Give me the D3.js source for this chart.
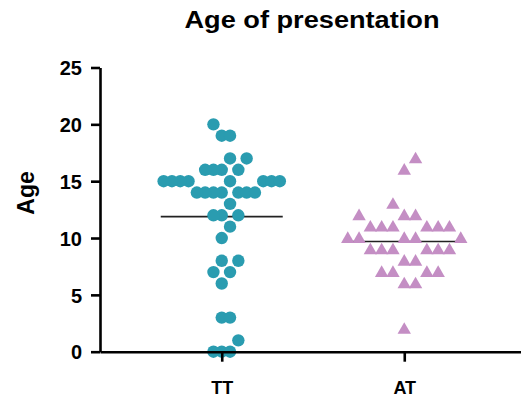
<!DOCTYPE html>
<html>
<head>
<meta charset="utf-8">
<script src="https://cdn.jsdelivr.net/npm/d3@7"></script>
<style>
  body { margin: 0; background: #fff; }
  text { font-family: "Liberation Sans", Arial, sans-serif; font-weight: bold; fill: #000; }
</style>
</head>
<body>
<div id="chart"></div>
<script>
const groups = ["TT", "AT"];
const ttAges = [20, 19, 19, 17, 17, 16, 16, 16, 16, 15, 15, 15, 15, 15, 15, 15, 15,
  14, 14, 14, 14, 14, 14, 14, 13, 12, 12, 12, 11, 10, 8, 8, 7, 7, 6, 3, 3, 1, 0, 0, 0];
const atAges = [17, 16, 13, 12, 12, 12, 11, 11, 11, 11, 11, 11, 10, 10, 10, 10, 10,
  9, 9, 9, 9, 9, 9, 8, 8, 7, 7, 7, 7, 6, 6, 2];
const yTicks = [0, 5, 10, 15, 20, 25];

const width = 521, height = 397;

const svg = d3.select("#chart").append("svg")
  .attr("width", width)
  .attr("height", height);

const y = d3.scaleLinear().domain([0, 25]).range([351.7, 67.5]);
const x = d3.scalePoint().domain(groups).range([100, 526]).padding(0.667);

// column layout: a point can't share a column with points in the same or neighbouring row
function swarm(values) {
  const placed = [];
  values.slice().sort((a, b) => a - b).forEach(v => {
    const taken = new Set(placed.filter(p => Math.abs(p.v - v) <= 1).map(p => p.col));
    let col = 0;
    for (let k = 0; ; k++) {
      if (!taken.has(k)) { col = k; break; }
      if (!taken.has(-k)) { col = -k; break; }
    }
    placed.push({v: v, col: col});
  });
  return placed;
}

const series = [
  {name: "TT", values: ttAges, color: "#2a9cb0", step: 8.3},
  {name: "AT", values: atAges, color: "#c48ec4", step: 11.3}
];

// mean lines (behind the points)
series.forEach(s => {
  const m = d3.mean(s.values);
  svg.append("line")
    .attr("x1", x(s.name) - 61).attr("x2", x(s.name) + 61)
    .attr("y1", y(m)).attr("y2", y(m))
    .attr("stroke", "#222").attr("stroke-width", 1.6);
});

// TT circles
svg.append("g").selectAll("circle")
  .data(swarm(ttAges))
  .enter().append("circle")
    .attr("cx", d => x("TT") + d.col * series[0].step)
    .attr("cy", d => y(d.v))
    .attr("r", 6.2)
    .attr("fill", series[0].color);

// AT triangles
const tri = d3.symbol().type(d3.symbolTriangle).size(78);
svg.append("g").selectAll("path")
  .data(swarm(atAges))
  .enter().append("path")
    .attr("d", tri)
    .attr("transform", d => "translate(" + (x("AT") + d.col * series[1].step) + "," + (y(d.v) + 1) + ")")
    .attr("fill", series[1].color);

// y axis
const yAxis = svg.append("g")
  .attr("transform", "translate(100,0)")
  .call(d3.axisLeft(y).tickValues(yTicks).tickSize(9).tickSizeOuter(0).tickPadding(9));
yAxis.selectAll("text").style("font-size", "20px").attr("dy", "0.36em");

// x axis
const xAxis = svg.append("g")
  .attr("transform", "translate(0,351.7)")
  .call(d3.axisBottom(x).tickSize(10).tickSizeOuter(0).tickPadding(19.5));
xAxis.selectAll("text").style("font-size", "18px");

svg.selectAll(".domain, .tick line")
  .attr("stroke", "#000").attr("stroke-width", 2.6);

svg.append("text")
  .attr("x", 312).attr("y", 28)
  .attr("text-anchor", "middle")
  .attr("textLength", 255).attr("lengthAdjust", "spacingAndGlyphs")
  .style("font-size", "23px")
  .text("Age of presentation");

svg.append("text")
  .attr("transform", "translate(34,193) rotate(-90)")
  .attr("text-anchor", "middle")
  .style("font-size", "23px")
  .text("Age");
</script>
</body>
</html>
